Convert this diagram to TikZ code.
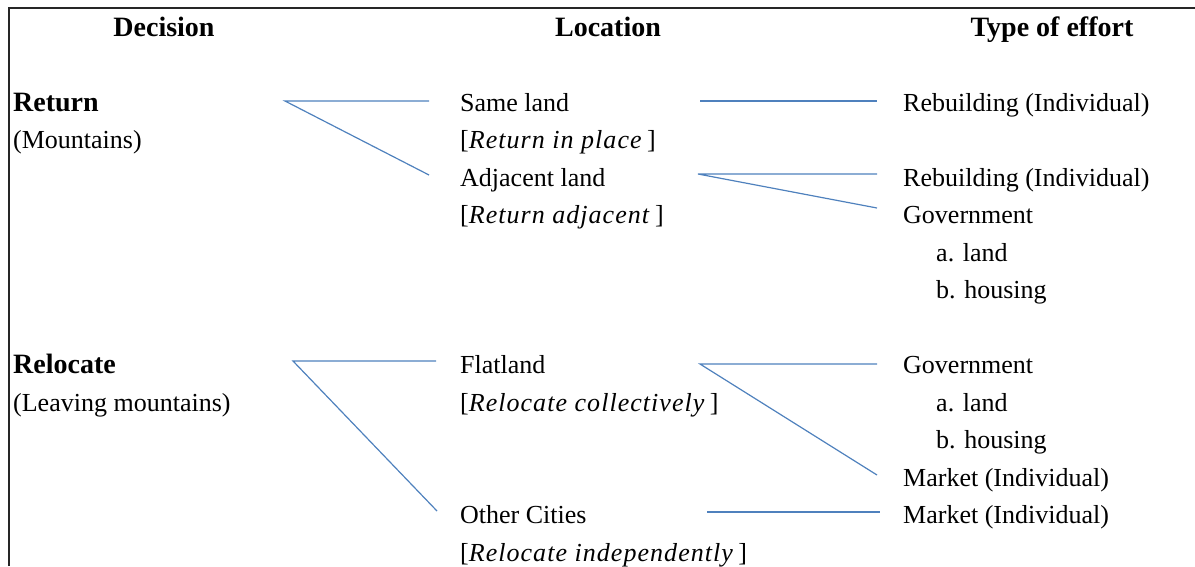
\documentclass[tikz,border=0pt]{standalone}
\usepackage{fontspec}
\setmainfont{Liberation Serif}[ItalicFeatures={LetterSpace=4.0}]
\definecolor{linkblue}{HTML}{4F81BD}
\begin{document}
\begin{tikzpicture}[x=1pt,y=-1pt,
  txt/.style={anchor=base west,inner sep=0pt,font=\fontsize{26}{30}\selectfont},
  boldtxt/.style={txt,font=\fontsize{28}{30}\selectfont\bfseries},
  head/.style={anchor=base,inner sep=0pt,font=\fontsize{28}{30}\selectfont\bfseries},
  link/.style={draw=linkblue,line width=1.2pt},
  frame/.style={draw=black!85,line width=1.6pt}]

\useasboundingbox (0,0) rectangle (1195,566);
% open frame: top and left rules
\draw[frame] (9,566) -- (9,8) -- (1195,8);

% column headings
\node[head] (hDec)  at (164,36)  {Decision};
\node[head] (hLoc)  at (608,36)  {Location};
\node[head] (hType) at (1052,36) {Type of effort};

% decision column
\node[boldtxt] (ret)    at (13,111)   {Return};
\node[txt]     (retSub) at (13,148.5) {(Mountains)};
\node[boldtxt] (rel)    at (13,373.5) {Relocate};
\node[txt]     (relSub) at (13,411)   {(Leaving mountains)};

% location column
\node[txt] (same)     at (460,111)   {Same land};
\node[txt] (sameTag)  at (460,148.5) {[\textit{Return in place}\,]};
\node[txt] (adj)      at (460,186)   {Adjacent land};
\node[txt] (adjTag)   at (460,223.5) {[\textit{Return adjacent}\,]};
\node[txt] (flat)     at (460,373.5) {Flatland};
\node[txt] (flatTag)  at (460,411)   {[\textit{Relocate collectively}\,]};
\node[txt] (other)    at (460,523.5) {Other Cities};
\node[txt] (otherTag) at (460,561)   {[\textit{Relocate independently}\,]};

% type of effort column
\node[txt] (reb1)  at (903,111)   {Rebuilding (Individual)};
\node[txt] (reb2)  at (903,186)   {Rebuilding (Individual)};
\node[txt] (gov1)  at (903,223.5) {Government};
\node[txt] (gov1a) at (936,261)   {a. land};
\node[txt] (gov1b) at (936,298.5) {b. housing};
\node[txt] (gov2)  at (903,373.5) {Government};
\node[txt] (gov2a) at (936,411)   {a. land};
\node[txt] (gov2b) at (936,448.5) {b. housing};
\node[txt] (mkt1)  at (903,486)   {Market (Individual)};
\node[txt] (mkt2)  at (903,523.5) {Market (Individual)};

% connector end points
\coordinate (retJ)     at (285,101);
\coordinate (sameIn)   at (429,101);
\coordinate (adjIn)    at (429,175);
\coordinate (sameOut)  at (700,101);
\coordinate (reb1In)   at (877,101);
\coordinate (adjOut)   at (698,174);
\coordinate (reb2In)   at (877,174);
\coordinate (gov1In)   at (877,208);
\coordinate (relJ)     at (293,361);
\coordinate (flatIn)   at (436,361);
\coordinate (otherIn)  at (437,511);
\coordinate (flatOut)  at (700,364);
\coordinate (gov2In)   at (877,364);
\coordinate (mkt1In)   at (877,475);
\coordinate (otherOut) at (707,512);
\coordinate (mkt2In)   at (880,512);

% connectors
\draw[link] (sameIn) -- (retJ) -- (adjIn);
\draw[link] (sameOut) -- (reb1In);
\draw[link] (reb2In) -- (adjOut) -- (gov1In);
\draw[link] (flatIn) -- (relJ) -- (otherIn);
\draw[link] (gov2In) -- (flatOut) -- (mkt1In);
\draw[link] (otherOut) -- (mkt2In);
\end{tikzpicture}
\end{document}
